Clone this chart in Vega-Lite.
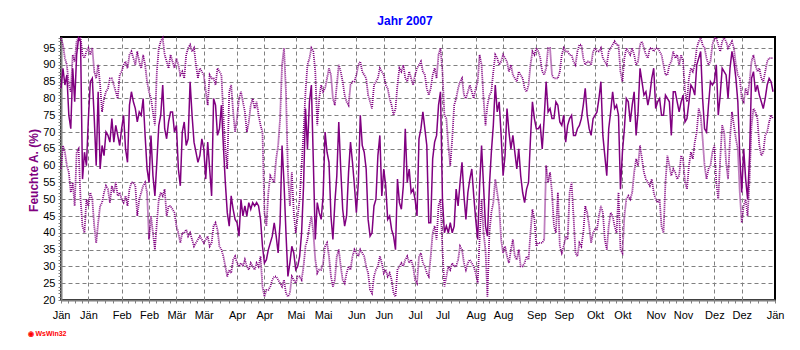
{
  "$schema": "https://vega.github.io/schema/vega-lite/v6.json",
  "autosize": {"type": "none"},
  "padding": {"left": 61, "top": 37, "right": 25, "bottom": 50},
  "width": 714,
  "height": 263,
  "background": "#ffffff",
  "config": {
    "font": "Liberation Sans",
    "view": {"stroke": "#000000", "strokeWidth": 2}
  },
  "title": {"text": "Jahr 2007", "color": "#0000ff", "fontSize": 12, "fontWeight": "bold", "font": "Liberation Sans", "anchor": "middle", "frame": "group", "dx": -13, "dy": 15, "offset": 10, "baseline": "alphabetic"},
  "data": {"values": [
{"t":1,"m":83,"h":98,"l":59},{"t":2,"m":89,"h":96,"l":66},{"t":3,"m":84,"h":92,"l":64},{"t":4,"m":87,"h":90,"l":60},{"t":5,"m":75,"h":84,"l":58},
{"t":6,"m":71,"h":82,"l":52},{"t":7,"m":89,"h":93,"l":55},{"t":8,"m":79,"h":91,"l":48},{"t":9,"m":93,"h":97,"l":64},{"t":10,"m":98,"h":98,"l":65},
{"t":11,"m":97,"h":98,"l":50},{"t":12,"m":56,"h":93,"l":42},{"t":13,"m":64,"h":92,"l":40},{"t":14,"m":60,"h":94,"l":50},{"t":15,"m":74,"h":95,"l":48},
{"t":16,"m":85,"h":93,"l":52},{"t":17,"m":86,"h":95,"l":50},{"t":18,"m":74,"h":88,"l":42},{"t":19,"m":60,"h":86,"l":37},{"t":20,"m":82,"h":90,"l":43},
{"t":21,"m":59,"h":84,"l":48},{"t":22,"m":66,"h":76,"l":49},{"t":23,"m":63,"h":80,"l":52},{"t":24,"m":70,"h":82,"l":54},{"t":25,"m":69,"h":83,"l":53},
{"t":26,"m":67,"h":86,"l":49},{"t":27,"m":74,"h":86,"l":54},{"t":28,"m":67,"h":84,"l":52},{"t":29,"m":72,"h":82,"l":55},{"t":30,"m":69,"h":80,"l":51},
{"t":31,"m":66,"h":87,"l":52},{"t":32,"m":71,"h":88,"l":50},{"t":33,"m":75,"h":90,"l":49},{"t":34,"m":65,"h":91,"l":51},{"t":35,"m":61,"h":89,"l":48},
{"t":36,"m":78,"h":93,"l":53},{"t":37,"m":82,"h":94,"l":55},{"t":38,"m":79,"h":92,"l":55},{"t":39,"m":77,"h":90,"l":54},{"t":40,"m":73,"h":94,"l":45},
{"t":41,"m":76,"h":91,"l":50},{"t":42,"m":75,"h":89,"l":52},{"t":43,"m":80,"h":93,"l":54},{"t":44,"m":69,"h":90,"l":55},{"t":45,"m":59,"h":85,"l":52},
{"t":46,"m":55,"h":82,"l":38},{"t":47,"m":69,"h":80,"l":45},{"t":48,"m":57,"h":76,"l":40},{"t":49,"m":51,"h":72,"l":35},{"t":50,"m":61,"h":88,"l":43},
{"t":51,"m":72,"h":95,"l":50},{"t":52,"m":75,"h":97,"l":52},{"t":53,"m":84,"h":98,"l":51},{"t":54,"m":71,"h":93,"l":53},{"t":55,"m":68,"h":91,"l":45},
{"t":56,"m":73,"h":89,"l":48},{"t":57,"m":76,"h":93,"l":48},{"t":58,"m":76,"h":91,"l":47},{"t":59,"m":70,"h":89,"l":46},{"t":60,"m":72,"h":92,"l":42},
{"t":61,"m":59,"h":90,"l":40},{"t":62,"m":54,"h":87,"l":37},{"t":63,"m":70,"h":88,"l":40},{"t":64,"m":73,"h":86,"l":40},{"t":65,"m":66,"h":93,"l":41},
{"t":66,"m":68,"h":95,"l":39},{"t":67,"m":85,"h":96,"l":40},{"t":68,"m":75,"h":94,"l":38},{"t":69,"m":67,"h":95,"l":36},{"t":70,"m":64,"h":90,"l":37},
{"t":71,"m":61,"h":86,"l":38},{"t":72,"m":63,"h":89,"l":39},{"t":73,"m":68,"h":88,"l":38},{"t":74,"m":65,"h":87,"l":37},{"t":75,"m":56,"h":82,"l":38},
{"t":76,"m":67,"h":78,"l":39},{"t":77,"m":59,"h":87,"l":36},{"t":78,"m":51,"h":86,"l":37},{"t":79,"m":80,"h":86,"l":42},{"t":80,"m":78,"h":84,"l":43},
{"t":81,"m":69,"h":89,"l":41},{"t":82,"m":71,"h":88,"l":36},{"t":83,"m":78,"h":87,"l":35},{"t":84,"m":66,"h":75,"l":33},{"t":85,"m":55,"h":65,"l":30},
{"t":86,"m":46,"h":59,"l":27},{"t":87,"m":42,"h":82,"l":29},{"t":88,"m":51,"h":84,"l":28},{"t":89,"m":47,"h":76,"l":32},{"t":90,"m":44,"h":70,"l":33},
{"t":91,"m":43,"h":74,"l":31},{"t":92,"m":39,"h":80,"l":30},{"t":93,"m":50,"h":82,"l":31},{"t":94,"m":45,"h":79,"l":30},{"t":95,"m":48,"h":76,"l":32},
{"t":96,"m":45,"h":70,"l":30},{"t":97,"m":49,"h":73,"l":29},{"t":98,"m":47,"h":78,"l":31},{"t":99,"m":49,"h":80,"l":30},{"t":100,"m":48,"h":77,"l":29},
{"t":101,"m":49,"h":79,"l":31},{"t":102,"m":48,"h":75,"l":30},{"t":103,"m":44,"h":72,"l":33},{"t":104,"m":36,"h":70,"l":24},{"t":105,"m":31,"h":46,"l":21},
{"t":106,"m":32,"h":42,"l":23},{"t":107,"m":35,"h":52,"l":23},{"t":108,"m":37,"h":57,"l":24},{"t":109,"m":39,"h":56,"l":26},{"t":110,"m":43,"h":55,"l":27},
{"t":111,"m":39,"h":62,"l":27},{"t":112,"m":34,"h":66,"l":26},{"t":113,"m":43,"h":74,"l":25},{"t":114,"m":66,"h":90,"l":24},{"t":115,"m":55,"h":95,"l":26},
{"t":116,"m":40,"h":82,"l":22},{"t":117,"m":27,"h":58,"l":21},{"t":118,"m":31,"h":48,"l":22},{"t":119,"m":36,"h":58,"l":27},{"t":120,"m":34,"h":46,"l":26},
{"t":121,"m":29,"h":40,"l":25},{"t":122,"m":30,"h":45,"l":27},{"t":123,"m":33,"h":50,"l":27},{"t":124,"m":40,"h":60,"l":26},{"t":125,"m":54,"h":70,"l":30},
{"t":126,"m":77,"h":82,"l":36},{"t":127,"m":65,"h":90,"l":38},{"t":128,"m":79,"h":92,"l":42},{"t":129,"m":84,"h":95,"l":45},{"t":130,"m":61,"h":94,"l":40},
{"t":131,"m":38,"h":88,"l":32},{"t":132,"m":49,"h":72,"l":28},{"t":133,"m":46,"h":80,"l":29},{"t":134,"m":44,"h":84,"l":29},{"t":135,"m":51,"h":82,"l":31},
{"t":136,"m":70,"h":83,"l":36},{"t":137,"m":64,"h":86,"l":37},{"t":138,"m":61,"h":89,"l":33},{"t":139,"m":45,"h":87,"l":27},{"t":140,"m":38,"h":80,"l":24},
{"t":141,"m":49,"h":78,"l":26},{"t":142,"m":57,"h":84,"l":33},{"t":143,"m":73,"h":90,"l":35},{"t":144,"m":59,"h":88,"l":30},{"t":145,"m":47,"h":85,"l":26},
{"t":146,"m":42,"h":81,"l":25},{"t":147,"m":45,"h":79,"l":28},{"t":148,"m":58,"h":78,"l":30},{"t":149,"m":67,"h":84,"l":29},{"t":150,"m":61,"h":85,"l":33},
{"t":151,"m":54,"h":85,"l":35},{"t":152,"m":46,"h":87,"l":34},{"t":153,"m":55,"h":90,"l":33},{"t":154,"m":75,"h":91,"l":35},{"t":155,"m":66,"h":88,"l":34},
{"t":156,"m":64,"h":87,"l":33},{"t":157,"m":59,"h":86,"l":30},{"t":158,"m":44,"h":81,"l":28},{"t":159,"m":39,"h":79,"l":23},{"t":160,"m":40,"h":77,"l":22},
{"t":161,"m":48,"h":84,"l":27},{"t":162,"m":50,"h":85,"l":29},{"t":163,"m":63,"h":86,"l":30},{"t":164,"m":69,"h":89,"l":33},{"t":165,"m":51,"h":88,"l":31},
{"t":166,"m":59,"h":87,"l":28},{"t":167,"m":54,"h":84,"l":29},{"t":168,"m":44,"h":83,"l":27},{"t":169,"m":45,"h":80,"l":28},{"t":170,"m":41,"h":78,"l":26},
{"t":171,"m":39,"h":75,"l":22},{"t":172,"m":35,"h":77,"l":21},{"t":173,"m":56,"h":84,"l":29},{"t":174,"m":49,"h":89,"l":30},{"t":175,"m":47,"h":88,"l":31},
{"t":176,"m":54,"h":90,"l":30},{"t":177,"m":71,"h":86,"l":32},{"t":178,"m":55,"h":85,"l":33},{"t":179,"m":59,"h":88,"l":31},{"t":180,"m":52,"h":86,"l":32},
{"t":181,"m":53,"h":84,"l":30},{"t":182,"m":50,"h":87,"l":26},{"t":183,"m":45,"h":89,"l":25},{"t":184,"m":68,"h":90,"l":33},{"t":185,"m":71,"h":91,"l":34},
{"t":186,"m":76,"h":88,"l":31},{"t":187,"m":71,"h":87,"l":30},{"t":188,"m":66,"h":83,"l":28},{"t":189,"m":43,"h":81,"l":27},{"t":190,"m":43,"h":83,"l":33},
{"t":191,"m":62,"h":87,"l":40},{"t":192,"m":67,"h":89,"l":42},{"t":193,"m":69,"h":86,"l":38},{"t":194,"m":78,"h":93,"l":48},{"t":195,"m":82,"h":95,"l":50},
{"t":196,"m":50,"h":88,"l":35},{"t":197,"m":40,"h":75,"l":24},{"t":198,"m":42,"h":74,"l":27},{"t":199,"m":40,"h":66,"l":30},{"t":200,"m":43,"h":60,"l":29},
{"t":201,"m":40,"h":68,"l":31},{"t":202,"m":42,"h":78,"l":30},{"t":203,"m":53,"h":80,"l":30},{"t":204,"m":48,"h":83,"l":32},{"t":205,"m":55,"h":85,"l":36},
{"t":206,"m":61,"h":86,"l":35},{"t":207,"m":51,"h":81,"l":31},{"t":208,"m":44,"h":80,"l":29},{"t":209,"m":52,"h":82,"l":31},{"t":210,"m":56,"h":84,"l":32},
{"t":211,"m":59,"h":82,"l":31},{"t":212,"m":51,"h":80,"l":30},{"t":213,"m":44,"h":83,"l":28},{"t":214,"m":38,"h":85,"l":25},{"t":215,"m":54,"h":93,"l":38},
{"t":216,"m":66,"h":90,"l":50},{"t":217,"m":54,"h":80,"l":40},{"t":218,"m":42,"h":72,"l":35},{"t":219,"m":39,"h":78,"l":21},{"t":220,"m":54,"h":81,"l":40},
{"t":221,"m":64,"h":82,"l":46},{"t":222,"m":72,"h":88,"l":49},{"t":223,"m":84,"h":93,"l":56},{"t":224,"m":76,"h":92,"l":52},{"t":225,"m":79,"h":90,"l":48},
{"t":226,"m":69,"h":91,"l":38},{"t":227,"m":57,"h":93,"l":34},{"t":228,"m":63,"h":92,"l":36},{"t":229,"m":77,"h":91,"l":33},{"t":230,"m":70,"h":88,"l":31},
{"t":231,"m":65,"h":90,"l":35},{"t":232,"m":69,"h":87,"l":38},{"t":233,"m":64,"h":86,"l":33},{"t":234,"m":59,"h":85,"l":32},{"t":235,"m":65,"h":88,"l":35},
{"t":236,"m":57,"h":87,"l":30},{"t":237,"m":52,"h":86,"l":30},{"t":238,"m":49,"h":83,"l":31},{"t":239,"m":53,"h":82,"l":33},{"t":240,"m":55,"h":84,"l":32},
{"t":241,"m":68,"h":90,"l":40},{"t":242,"m":79,"h":94,"l":47},{"t":243,"m":74,"h":93,"l":44},{"t":244,"m":71,"h":95,"l":36},{"t":245,"m":71,"h":94,"l":37},
{"t":246,"m":72,"h":92,"l":37},{"t":247,"m":65,"h":88,"l":37},{"t":248,"m":74,"h":87,"l":38},{"t":249,"m":85,"h":89,"l":60},{"t":250,"m":76,"h":95,"l":55},
{"t":251,"m":77,"h":95,"l":58},{"t":252,"m":74,"h":87,"l":52},{"t":253,"m":74,"h":86,"l":42},{"t":254,"m":79,"h":86,"l":40},{"t":255,"m":78,"h":86,"l":52},
{"t":256,"m":73,"h":88,"l":36},{"t":257,"m":72,"h":93,"l":34},{"t":258,"m":75,"h":95,"l":36},{"t":259,"m":67,"h":94,"l":39},{"t":260,"m":72,"h":94,"l":38},
{"t":261,"m":74,"h":93,"l":52},{"t":262,"m":75,"h":93,"l":55},{"t":263,"m":69,"h":91,"l":45},{"t":264,"m":69,"h":90,"l":34},{"t":265,"m":71,"h":94,"l":33},
{"t":266,"m":72,"h":96,"l":37},{"t":267,"m":74,"h":96,"l":36},{"t":268,"m":78,"h":92,"l":40},{"t":269,"m":83,"h":90,"l":48},{"t":270,"m":75,"h":91,"l":46},
{"t":271,"m":71,"h":91,"l":42},{"t":272,"m":69,"h":90,"l":37},{"t":273,"m":74,"h":94,"l":40},{"t":274,"m":75,"h":95,"l":41},{"t":275,"m":76,"h":94,"l":41},
{"t":276,"m":80,"h":94,"l":45},{"t":277,"m":85,"h":95,"l":48},{"t":278,"m":69,"h":92,"l":46},{"t":279,"m":63,"h":91,"l":38},{"t":280,"m":57,"h":90,"l":35},
{"t":281,"m":71,"h":94,"l":42},{"t":282,"m":76,"h":95,"l":46},{"t":283,"m":82,"h":96,"l":45},{"t":284,"m":77,"h":97,"l":42},{"t":285,"m":78,"h":96,"l":40},
{"t":286,"m":75,"h":96,"l":52},{"t":287,"m":53,"h":88,"l":35},{"t":288,"m":64,"h":85,"l":34},{"t":289,"m":71,"h":92,"l":45},{"t":290,"m":80,"h":95,"l":50},
{"t":291,"m":79,"h":94,"l":51},{"t":292,"m":73,"h":93,"l":50},{"t":293,"m":78,"h":95,"l":52},{"t":294,"m":82,"h":93,"l":58},{"t":295,"m":69,"h":90,"l":62},
{"t":296,"m":76,"h":91,"l":60},{"t":297,"m":89,"h":96,"l":66},{"t":298,"m":85,"h":97,"l":62},{"t":299,"m":81,"h":95,"l":58},{"t":300,"m":82,"h":93,"l":56},
{"t":301,"m":78,"h":92,"l":55},{"t":302,"m":81,"h":95,"l":54},{"t":303,"m":86,"h":95,"l":56},{"t":304,"m":89,"h":94,"l":52},{"t":305,"m":77,"h":95,"l":50},
{"t":306,"m":79,"h":95,"l":49},{"t":307,"m":80,"h":94,"l":50},{"t":308,"m":75,"h":93,"l":42},{"t":309,"m":75,"h":90,"l":40},{"t":310,"m":81,"h":87,"l":55},
{"t":311,"m":80,"h":87,"l":63},{"t":312,"m":79,"h":90,"l":60},{"t":313,"m":69,"h":91,"l":57},{"t":314,"m":82,"h":94,"l":59},{"t":315,"m":82,"h":92,"l":58},
{"t":316,"m":79,"h":93,"l":56},{"t":317,"m":76,"h":90,"l":57},{"t":318,"m":79,"h":93,"l":63},{"t":319,"m":81,"h":91,"l":62},{"t":320,"m":73,"h":82,"l":55},
{"t":321,"m":74,"h":79,"l":53},{"t":322,"m":79,"h":86,"l":60},{"t":323,"m":84,"h":89,"l":64},{"t":324,"m":83,"h":88,"l":62},{"t":325,"m":81,"h":90,"l":67},
{"t":326,"m":90,"h":95,"l":70},{"t":327,"m":92,"h":97,"l":77},{"t":328,"m":94,"h":98,"l":75},{"t":329,"m":80,"h":96,"l":68},{"t":330,"m":71,"h":95,"l":60},
{"t":331,"m":70,"h":92,"l":56},{"t":332,"m":78,"h":90,"l":59},{"t":333,"m":85,"h":91,"l":60},{"t":334,"m":84,"h":96,"l":64},{"t":335,"m":85,"h":98,"l":66},
{"t":336,"m":90,"h":98,"l":55},{"t":337,"m":75,"h":96,"l":50},{"t":338,"m":81,"h":94,"l":62},{"t":339,"m":89,"h":97,"l":72},{"t":340,"m":88,"h":98,"l":70},
{"t":341,"m":87,"h":97,"l":61},{"t":342,"m":80,"h":95,"l":56},{"t":343,"m":89,"h":96,"l":68},{"t":344,"m":94,"h":97,"l":76},{"t":345,"m":91,"h":95,"l":72},
{"t":346,"m":86,"h":90,"l":68},{"t":347,"m":79,"h":87,"l":65},{"t":348,"m":63,"h":86,"l":52},{"t":349,"m":52,"h":80,"l":43},{"t":350,"m":65,"h":79,"l":48},
{"t":351,"m":56,"h":83,"l":50},{"t":352,"m":50,"h":81,"l":45},{"t":353,"m":63,"h":85,"l":56},{"t":354,"m":86,"h":91,"l":72},{"t":355,"m":88,"h":93,"l":77},
{"t":356,"m":82,"h":90,"l":76},{"t":357,"m":84,"h":88,"l":74},{"t":358,"m":81,"h":89,"l":66},{"t":359,"m":79,"h":86,"l":63},{"t":360,"m":77,"h":85,"l":64},
{"t":361,"m":80,"h":88,"l":69},{"t":362,"m":84,"h":91,"l":70},{"t":363,"m":86,"h":92,"l":73},{"t":364,"m":85,"h":92,"l":75},{"t":365,"m":82,"h":92,"l":74}
  ]},
  "transform": [{"fold": ["h", "l", "m"], "as": ["serie", "wert"]}],
  "encoding": {
    "x": {
      "field": "t", "type": "quantitative",
      "scale": {"domain": [1, 366], "nice": false, "zero": false},
      "axis": {
        "values": [1,4.5,8,11.5,15,19.25,23.5,27.75,32,35.5,39,42.5,46,49.5,53,56.5,60,63.5,67,70.5,74,78.25,82.5,86.75,91,94.5,98,101.5,105,109,113,117,121,124.5,128,131.5,135,139.25,143.5,147.75,152,155.5,159,162.5,166,170,174,178,182,185.5,189,192.5,196,200.25,204.5,208.75,213,216.5,220,223.5,227,231.25,235.5,239.75,244,247.5,251,254.5,258,262,266,270,274,277.5,281,284.5,288,292.25,296.5,300.75,305,308.5,312,315.5,319,323,327,331,335,338.5,342,345.5,349,353.25,357.5,361.75,366],
        "labelExpr": "['Jän','Jän','Feb','Feb','Mär','Mär','Apr','Apr','Mai','Mai','Jun','Jun','Jul','Jul','Aug','Aug','Sep','Sep','Okt','Okt','Nov','Nov','Dez','Dez','Jän'][indexof([1,15,32,46,60,74,91,105,121,135,152,166,182,196,213,227,244,258,274,288,305,319,335,349,366], datum.value)] || ''",
        "labelOverlap": false,
        "labelFlush": false,
        "labelBound": false,
        "labelFont": "Liberation Sans",
        "labelFontSize": 11,
        "labelColor": "#000000",
        "labelPadding": 6,
        "grid": true,
        "gridColor": "#808080",
        "gridDash": [4, 3],
        "gridWidth": 1,
        "gridOpacity": {"condition": {"test": "indexof([15,32,46,60,74,91,105,121,135,152,166,182,196,213,227,244,258,274,288,305,319,335,349], datum.value) >= 0", "value": 1}, "value": 0},
        "tickSize": 3,
        "tickColor": "#808080",
        "domainColor": "#808080",
        "domainWidth": 2,
        "title": "◉ WsWin32",
        "titleColor": "#ff0000",
        "titleFont": "Liberation Sans",
        "titleFontSize": 7,
        "titleFontWeight": "bold",
        "titleAnchor": "start",
        "titleAlign": "left",
        "titleBaseline": "middle",
        "titleX": -34,
        "titleY": 33
      }
    },
    "y": {
      "field": "wert", "type": "quantitative",
      "scale": {"domain": [20, 98.3], "nice": false, "zero": false},
      "axis": {
        "values": [20,21,22,23,24,25,26,27,28,29,30,31,32,33,34,35,36,37,38,39,40,41,42,43,44,45,46,47,48,49,50,51,52,53,54,55,56,57,58,59,60,61,62,63,64,65,66,67,68,69,70,71,72,73,74,75,76,77,78,79,80,81,82,83,84,85,86,87,88,89,90,91,92,93,94,95,96,97,98],
        "labelExpr": "indexof([20,25,30,35,40,45,50,55,60,65,70,75,80,85,90,95], datum.value) >= 0 ? datum.label : ''",
        "labelOverlap": false,
        "labelFlush": false,
        "labelBound": false,
        "labelFont": "Liberation Sans",
        "labelFontSize": 11,
        "labelColor": "#000000",
        "labelPadding": 3,
        "grid": true,
        "gridColor": "#808080",
        "gridDash": [4, 3],
        "gridWidth": 1,
        "gridOpacity": {"condition": {"test": "indexof([25,30,35,40,45,50,55,60,65,70,75,80,85,90,95], datum.value) >= 0", "value": 1}, "value": 0},
        "tickSize": 3,
        "tickColor": "#808080",
        "domainColor": "#808080",
        "domainWidth": 2,
        "title": "Feuchte A. (%)",
        "titleColor": "#800080",
        "titleFont": "Liberation Sans",
        "titleFontSize": 12,
        "titleFontWeight": "bold",
        "titleBaseline": "alphabetic",
        "titleAlign": "center",
        "titleX": -24,
        "titleY": 133
      }
    }
  },
  "layer": [
    {
      "transform": [{"filter": "datum.serie !== 'm'"}],
      "mark": {"type": "line", "color": "#800080", "strokeWidth": 1.8, "strokeDash": [1, 1], "interpolate": "linear"},
      "encoding": {"detail": {"field": "serie", "type": "nominal"}}
    },
    {
      "transform": [{"filter": "datum.serie === 'm'"}],
      "mark": {"type": "line", "color": "#800080", "strokeWidth": 1.5, "interpolate": "linear"},
      "encoding": {}
    }
  ]
}
